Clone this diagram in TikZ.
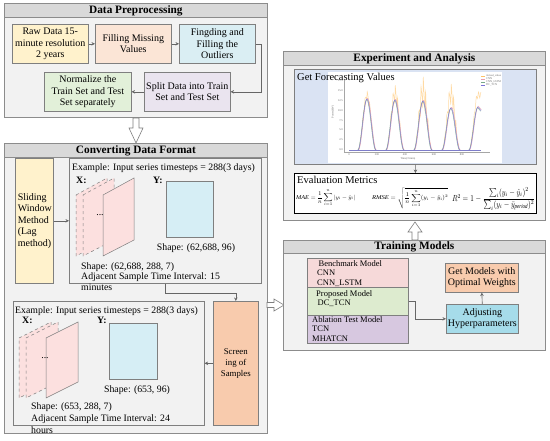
\documentclass[tikz,border=0pt]{standalone}
\usepackage{amsmath}
\usepackage{graphicx}
\usepackage{fontspec}
\setmainfont{Liberation Serif}
\usetikzlibrary{arrows.meta,calc}
\definecolor{panelfill}{HTML}{F2F2F2}
\definecolor{panelline}{HTML}{8C8C8C}
\definecolor{titlefill}{HTML}{D9D9D9}
\definecolor{boxline}{HTML}{7F7F7F}
\definecolor{cyellow}{HTML}{FFF2CC}
\definecolor{cpeach}{HTML}{FBE5D6}
\definecolor{ccyan}{HTML}{DAEEF3}
\definecolor{cgreen}{HTML}{E2F0D9}
\definecolor{clav}{HTML}{EAE4EF}
\definecolor{cpink}{HTML}{FCE0DF}
\definecolor{cblue}{HTML}{D6EEF5}
\definecolor{csalmon}{HTML}{F8CBAD}
\definecolor{cfc}{HTML}{DAE3F3}
\definecolor{cbench}{HTML}{F6D9D9}
\definecolor{cprop}{HTML}{DDEBCF}
\definecolor{cabl}{HTML}{D7C8E0}
\definecolor{cadj}{HTML}{A6DCEA}
\definecolor{corange}{HTML}{FFC266}
\definecolor{cred}{HTML}{E8A0B0}
\definecolor{cgr}{HTML}{77AA88}
\definecolor{cbl}{HTML}{7B72D8}
\begin{document}
\begin{tikzpicture}[x=1pt,y=-1pt,
  panel/.style={draw=panelline,fill=panelfill,line width=0.8pt,anchor=north west,inner sep=0pt},
  titlebar/.style={draw=panelline,fill=titlefill,line width=0.8pt,anchor=north west,inner sep=0pt,font=\fontsize{11.3}{13}\selectfont\bfseries},
  box/.style={draw=boxline,line width=0.6pt,anchor=north west,inner sep=0pt,align=center,font=\fontsize{10}{11.5}\selectfont},
  smallbox/.style={draw=boxline,line width=0.6pt,anchor=north west,inner sep=0pt,font=\fontsize{8.5}{10}\selectfont},
  txt/.style={inner sep=0pt,font=\fontsize{9.8}{11.5}\selectfont},
  arr/.style={draw=boxline!80!black,line width=0.6pt,-{Stealth[length=3.5pt,width=3.5pt]}},
  hollow/.style={draw=boxline,fill=white,line width=0.6pt},
  para/.style={draw=boxline,fill=cpink,line width=0.5pt},
  tick/.style={inner sep=0pt,font=\fontsize{2.8}{3}\selectfont,text=black!60},
  formula/.style={inner sep=0pt}
]
\useasboundingbox (0,0) rectangle (550,440);
\fill[white] (0,0) rectangle (550,440);

% ===== Data Preprocessing =====
\node[panel,minimum width=263,minimum height=114] (pp) at (4,3) {};
\node[titlebar,minimum width=263,minimum height=14] (ppt) at (4,3) {Data Preprocessing};
\node[box,fill=cyellow,minimum width=76,minimum height=39] (raw) at (12,24) {Raw Data 15-\\minute resolution\\2 years};
\node[box,fill=cpeach,minimum width=76,minimum height=39] (fillm) at (95,24) {Filling Missing\\Values};
\node[box,fill=ccyan,minimum width=76,minimum height=39] (find) at (179,24) {Fingding and\\Filling the\\Outliers};
\node[box,fill=cgreen,minimum width=87,minimum height=39] (norm) at (44,72) {Normalize the\\Train Set and Test\\Set separately};
\node[box,fill=clav,minimum width=86,minimum height=39] (split) at (144,72) {Split Data into Train\\Set and Test Set};
\draw[arr] (raw) -- (fillm);
\draw[arr] (fillm) -- (find);
\draw[arr] (find.east) -- ++(6,0) |- (split.east);
\draw[arr] (split) -- (norm);

% hollow arrow down
\draw[hollow] (133,118) -- (139,118) -- (139,128) -- (143,128) -- (136,143) -- (129,128) -- (133,128) -- cycle;

% ===== Converting Data Format =====
\node[panel,minimum width=263,minimum height=290] (cv) at (4,143) {};
\node[titlebar,minimum width=263,minimum height=14] (cvt) at (4,143) {Converting Data Format};
\node[box,fill=cyellow,minimum width=38,minimum height=125,align=left] (slide) at (15,158) {\hspace*{1pt}Sliding\\\hspace*{1pt}Window\\\hspace*{1pt}Method\\\hspace*{1pt}(Lag\\\hspace*{1pt}method)};
\node[box,fill=panelfill,minimum width=192,minimum height=125] (ex1) at (69,158) {};
\draw[arr] (slide.east) -- (ex1.west);
\node[txt,anchor=base west] (ex1t) at (72,170) {Example: Input series timesteps = 288(3 days)};
\node[txt,anchor=base west,font=\fontsize{9.8}{11}\selectfont\bfseries] (x1) at (76,183) {X:};
\node[txt,anchor=base west,font=\fontsize{9.8}{11}\selectfont\bfseries] (y1) at (153,183) {Y:};
\draw[para,dashed] (76,195) -- (107,178) -- (107,240) -- (76,256) -- cycle;
\draw[para,dashed] (83,195) -- (114,178) -- (114,240) -- (83,256) -- cycle;
\draw[para] (103,195) -- (134,178) -- (134,240) -- (103,256) -- cycle;
\node[txt] (d1) at (100,215) {...};
\node[draw=boxline,fill=cblue,line width=0.5pt,minimum width=47,minimum height=56,anchor=north west,inner sep=0pt] (yr1) at (166,181) {};
\node[txt,anchor=base] (ys1) at (196,250) {Shape: (62,688, 96)};
\node[txt,anchor=base west] (xs1) at (81,269) {Shape: (62,688, 288, 7)};
\node[txt,anchor=base west] (ai1) at (81,279) {Adjacent Sample Time Interval: 15};
\node[txt,anchor=base west] (mi1) at (81,290) {minutes};

\node[box,fill=csalmon,minimum width=45,minimum height=124,font=\fontsize{8.8}{11}\selectfont] (scr) at (213,301) {Screen\\ing of\\Samples};
\draw[arr] (ex1.south) -- ++(0,10) -| (scr.north);
\node[box,fill=panelfill,minimum width=191,minimum height=124] (ex2) at (13,301) {};
\draw[arr] (scr.west) -- (ex2.east);
\node[txt,anchor=base west] (ex2t) at (15,313) {Example: Input series timesteps = 288(3 days)};
\node[txt,anchor=base west,font=\fontsize{9.8}{11}\selectfont\bfseries] (x2) at (22,323) {X:};
\node[txt,anchor=base west,font=\fontsize{9.8}{11}\selectfont\bfseries] (y2) at (97,323) {Y:};
\draw[para,dashed] (19,338) -- (51,322) -- (51,382) -- (19,398) -- cycle;
\draw[para,dashed] (26,338) -- (58,322) -- (58,382) -- (26,398) -- cycle;
\draw[para] (46,338) -- (78,322) -- (78,382) -- (46,398) -- cycle;
\node[txt] (d2) at (45,358) {...};
\node[draw=boxline,fill=cblue,line width=0.5pt,minimum width=48,minimum height=56,anchor=north west,inner sep=0pt] (yr2) at (109,323) {};
\node[txt,anchor=base] (ys2) at (137,392) {Shape: (653, 96)};
\node[txt,anchor=base west] (xs2) at (31,409) {Shape: (653, 288, 7)};
\node[txt,anchor=base west] (ai2) at (31,421) {Adjacent Sample Time Interval: 24};
\node[txt,anchor=base west] (hr2) at (31,433) {hours};

% hollow arrow right
\draw[hollow] (267,302.5) -- (274,302.5) -- (274,299) -- (284,305) -- (274,311) -- (274,307.5) -- (267,307.5) -- cycle;

% ===== Experiment and Analysis =====
\node[panel,minimum width=262,minimum height=169] (ea) at (283,51) {};
\node[titlebar,minimum width=262,minimum height=14] (eat) at (283,51) {Experiment and Analysis};
\node[box,fill=cfc,minimum width=242,minimum height=95] (fc) at (294,69) {};
\node[fill=white,minimum width=174,minimum height=91,anchor=north west,inner sep=0pt] (chart) at (328,72) {};
\node[txt,anchor=base west,font=\fontsize{10.5}{12}\selectfont] (fct) at (297,80) {Get Forecasting Values};
% chart
\draw[black!35,line width=0.3pt] (344,80) -- (344,152) -- (490,152);
\foreach \v/\yy in {17.5/81,15.0/91,12.5/101,10.0/111,7.5/121,5.0/130,2.5/140,0.0/150}
  \node[tick,anchor=east] at (343,\yy) {\v};
\foreach \v/\xx in {0/349,200/377,400/405,600/434,800/462}
  \node[tick,anchor=north] at (\xx,153) {\v};
\node[tick,anchor=north] (xl) at (408,157.5) {Time(15min)};
\node[tick,rotate=90] (yl) at (333,112) {Power(kW)};
% legend
\foreach \c/\n/\yy in {corange/Actual\_value/76,cred/CNN/79,cgr/CNN\_LSTM/82,cbl/DC\_TCN/85}{
  \draw[\c,line width=0.4pt] (481,\yy) -- (485,\yy);
  \node[tick,anchor=west] at (486,\yy) {\n};
}
% actual values
\draw[corange,opacity=0.6,line width=0.5pt] (349,150) -- (481,150);
\foreach \c/\h/\a in {367/55/3,395/56/7,423/58/12,451/56/8}{
  \draw[corange,opacity=0.6,line width=0.5pt] plot[domain=-9:9,samples=40,smooth] ({\c+\x},{150-(\h+\a*sin(\x*157)+0.6*\a*sin(\x*311))*cos(\x*10)^2});
}
\draw[corange,opacity=0.6,line width=0.5pt] plot[domain=-9:3,samples=30,smooth] ({478+\x},{150-(55+3*sin(\x*157))*cos(min(\x,0)*10)^2});
% predictions
\foreach \col/\dd in {cred/0.4,cgr/-0.3,cbl/0}{
  \draw[\col,line width=0.5pt,opacity=0.8] (349,150) -- (481,150);
  \foreach \c/\h in {367/51,395/50,423/49,451/42}{
    \draw[\col,line width=0.5pt,opacity=0.8] plot[domain=-9:9,samples=30,smooth] ({\c+\x+\dd},{150-(\h+2*\dd)*cos(\x*10)^2});
  }
  \draw[\col,line width=0.5pt,opacity=0.8] plot[domain=-9:3,samples=20,smooth] ({478+\x+\dd},{150-(43+2*\dd-1.2*max(\x,0))*cos(min(\x,0)*10)^2});
}

\node[draw=black,fill=white,line width=1pt,minimum width=242,minimum height=40,anchor=north west,inner sep=0pt] (ev) at (294,173) {};
\draw[arr] (fc.south) -- (ev.north);
\node[txt,anchor=base west,font=\fontsize{10.5}{12}\selectfont] (evt) at (297,183.5) {Evaluation Metrics};
\node[formula,anchor=west] (mae) at (296,198) {\resizebox*{59pt}{17pt}{$\mathit{MAE}=\dfrac{1}{n}\displaystyle\sum_{i=1}^{n}|y_i-\hat{y}_i|$}};
\node[formula] (rmse) at (410,198.5) {\resizebox*{76pt}{21pt}{$\mathit{RMSE}=\sqrt{\dfrac{1}{n}\displaystyle\sum_{i=1}^{n}(y_i-\hat{y}_i)^2}$}};
\node[formula] (r2) at (493.5,199) {\resizebox*{83pt}{22pt}{$R^2=1-\dfrac{\sum_i (y_i-\hat{y}_i)^2}{\sum_i (y_i-\bar{y}_{\mathit{period}})^2}$}};

% hollow arrow up
\draw[hollow] (412,240) -- (418,240) -- (418,232) -- (422,232) -- (415,222) -- (408,232) -- (412,232) -- cycle;

% ===== Training Models =====
\node[panel,minimum width=262,minimum height=110] (tm) at (283,240) {};
\node[titlebar,minimum width=262,minimum height=13] (tmt) at (283,240) {Training Models};
\node[smallbox,fill=cbench,minimum width=101,minimum height=29] (bench) at (307,258) {};
\node[inner sep=0pt,anchor=north west,align=left,font=\fontsize{8.5}{9.8}\selectfont] at (317,260) {\,Benchmark Model\\CNN\\CNN\_LSTM};
\node[smallbox,fill=cprop,minimum width=101,minimum height=28] (prop) at (307,287) {};
\node[inner sep=0pt,anchor=north west,align=left,font=\fontsize{8.5}{9.8}\selectfont] at (316,290) {Proposed Model\\\,DC\_TCN};
\node[smallbox,fill=cabl,minimum width=101,minimum height=28] (abl) at (307,315) {};
\node[inner sep=0pt,anchor=north west,align=left,font=\fontsize{8.5}{9.8}\selectfont] at (312,316) {Ablation Test Model\\TCN\\MHATCN};
\node[box,fill=csalmon,minimum width=73,minimum height=29] (gm) at (445,263) {Get Models with\\Optimal Weights};
\node[box,fill=cadj,minimum width=72,minimum height=29] (adj) at (446,304) {Adjusting\\Hyperparameters};
\draw[arr] (prop.east) -- ++(7,0) |- (adj.west);
\draw[arr] (adj.north) -- (gm.south);
\end{tikzpicture}
\end{document}
